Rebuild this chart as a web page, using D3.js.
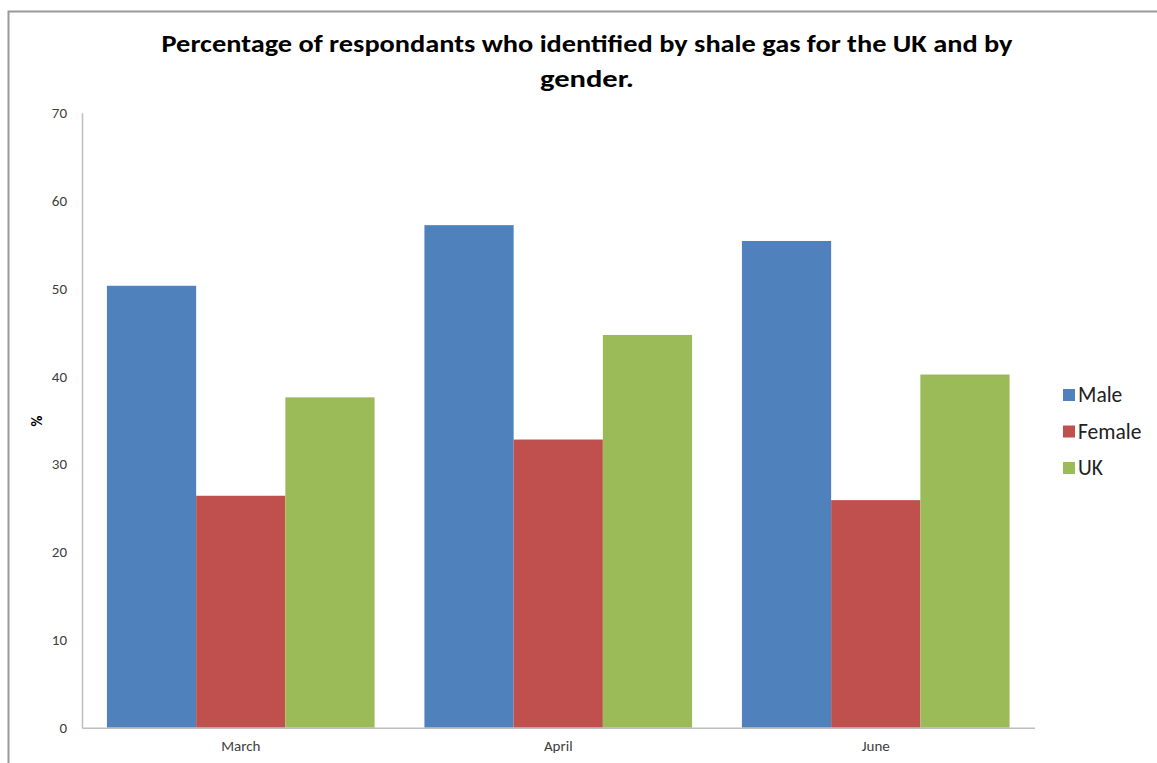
<!DOCTYPE html>
<html>
<head>
<meta charset="utf-8">
<script src="https://cdn.jsdelivr.net/npm/d3@7"></script>
<style>
  html, body { margin: 0; padding: 0; background: #fff; }
  svg { display: block; }
</style>
</head>
<body>
<svg id="chart" width="1157" height="763"></svg>
<script>
// ---- data ----
const titleLines = ["Percentage of respondants who identified by shale gas for the UK and by", "gender."];
const categories = ["March", "April", "June"];
const seriesNames = ["Male", "Female", "UK"];
const maleValues = [50.3, 57.2, 55.4];
const femaleValues = [26.4, 32.8, 25.9];
const ukValues = [37.6, 44.7, 40.2];
const yTicks = [0, 10, 20, 30, 40, 50, 60, 70];
const yLabel = "%";
const seriesColors = ["#4F81BD", "#C0504D", "#9BBB59"];

const seriesValues = [maleValues, femaleValues, ukValues];
const rows = categories.map((c, i) => ({
  category: c,
  values: seriesNames.map((s, j) => ({ series: s, value: seriesValues[j][i] }))
}));

const svg = d3.select("#chart");
const fontMain = "Carlito, 'Liberation Sans Narrow', 'Open Sans', sans-serif";

// frame (top and left border)
svg.append("path")
  .attr("d", "M8.5,763 L8.5,11.5 L1157,11.5")
  .attr("fill", "none").attr("stroke", "#9a9a9a").attr("stroke-width", 2);

// scales
const x0 = d3.scaleBand().domain(categories).range([82, 1034.5])
  .paddingInner(0.157).paddingOuter(0.0785);
const x1 = d3.scaleBand().domain(seriesNames).range([0, x0.bandwidth()]).padding(0);
const y = d3.scaleLinear().domain([0, 70]).range([727.7, 112.7]);
const color = d3.scaleOrdinal().domain(seriesNames).range(seriesColors);

// title
const title = svg.append("g");
title.append("text")
  .attr("x", 587).attr("y", 52)
  .attr("text-anchor", "middle")
  .attr("font-family", fontMain).attr("font-weight", "bold").attr("font-size", 24)
  .attr("fill", "#000")
  .attr("textLength", 851).attr("lengthAdjust", "spacingAndGlyphs")
  .text(titleLines[0]);
title.append("text")
  .attr("x", 587).attr("y", 87)
  .attr("text-anchor", "middle")
  .attr("font-family", fontMain).attr("font-weight", "bold").attr("font-size", 24)
  .attr("fill", "#000")
  .attr("textLength", 94).attr("lengthAdjust", "spacingAndGlyphs")
  .text(titleLines[1]);

// bars
const groups = svg.append("g").selectAll("g").data(rows).join("g")
  .attr("transform", d => `translate(${x0(d.category)},0)`);
groups.selectAll("rect").data(d => d.values).join("rect")
  .attr("x", d => x1(d.series))
  .attr("width", x1.bandwidth())
  .attr("y", d => y(d.value))
  .attr("height", d => y(0) - y(d.value))
  .attr("fill", d => color(d.series));

// y axis
const yAxis = svg.append("g").attr("transform", "translate(82,0)")
  .call(d3.axisLeft(y).tickValues(yTicks).tickSize(0).tickPadding(15).tickFormat(d3.format("d")));
yAxis.select(".domain").attr("stroke", "#bfbfbf").attr("stroke-width", 1.5);
yAxis.selectAll("text")
  .attr("font-family", fontMain).attr("font-size", 15).attr("fill", "#404040");

// x axis
const xAxis = svg.append("g").attr("transform", `translate(0,${y(0)})`)
  .call(d3.axisBottom(x0).tickSize(0).tickPadding(13));
xAxis.select(".domain").attr("stroke", "#bfbfbf").attr("stroke-width", 1.5);
xAxis.selectAll("text")
  .attr("font-family", fontMain).attr("font-size", 15).attr("fill", "#404040");

// y label
svg.append("text")
  .attr("transform", "translate(38,421) rotate(-90)")
  .attr("text-anchor", "middle").attr("dominant-baseline", "middle")
  .attr("font-family", fontMain).attr("font-weight", "bold").attr("font-size", 15)
  .attr("fill", "#000")
  .text(yLabel);

// legend
const legend = svg.append("g").selectAll("g").data(seriesNames).join("g")
  .attr("transform", (d, i) => `translate(1063,${395 + i * 36.5})`);
legend.append("rect")
  .attr("x", 0).attr("y", -6).attr("width", 12).attr("height", 12)
  .attr("fill", d => color(d));
legend.append("text")
  .attr("x", 15).attr("y", 0).attr("dominant-baseline", "central")
  .attr("font-family", fontMain).attr("font-size", 21.5).attr("fill", "#222")
  .text(d => d);
</script>
</body>
</html>
